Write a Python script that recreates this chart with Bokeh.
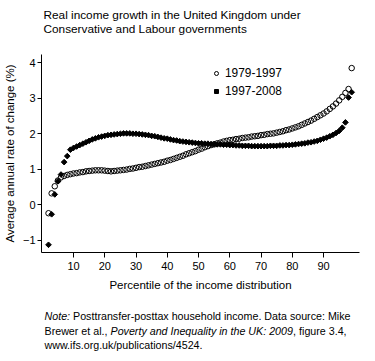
import numpy as np
from bokeh.plotting import figure
from bokeh.layouts import column
from bokeh.models import Legend, LegendItem, Range1d, FixedTicker
from bokeh.core.properties import value
from bokeh.embed import file_html
from bokeh.resources import INLINE

# ---------------- data ----------------
percentiles = list(range(2, 100))
growth_1979_1997 = [
    -0.24, 0.32, 0.52, 0.68, 0.77, 0.81, 0.84, 0.86, 0.88, 0.89,   # 2-11
    0.91, 0.92, 0.94, 0.95, 0.96, 0.97, 0.97, 0.97, 0.96, 0.95,    # 12-21
    0.94, 0.95, 0.96, 0.97, 0.98, 0.99, 1.01, 1.02, 1.04, 1.06,    # 22-31
    1.07, 1.09, 1.11, 1.13, 1.15, 1.17, 1.19, 1.21, 1.24, 1.26,    # 32-41
    1.29, 1.32, 1.35, 1.38, 1.42, 1.45, 1.48, 1.51, 1.55, 1.58,    # 42-51
    1.62, 1.65, 1.68, 1.70, 1.73, 1.75, 1.78, 1.80, 1.82, 1.83,    # 52-61
    1.85, 1.86, 1.88, 1.89, 1.90, 1.92, 1.93, 1.94, 1.96, 1.97,    # 62-71
    1.99, 2.00, 2.01, 2.03, 2.05, 2.07, 2.10, 2.12, 2.15, 2.18,    # 72-81
    2.21, 2.25, 2.29, 2.33, 2.37, 2.42, 2.47, 2.52, 2.57, 2.63,    # 82-91
    2.70, 2.77, 2.85, 2.94, 3.04, 3.15, 3.26, 3.85,                # 92-99
]
growth_1997_2008 = [
    -1.13, -0.27, 0.29, 0.66, 0.85, 1.20, 1.37, 1.55, 1.60, 1.64,  # 2-11
    1.68, 1.72, 1.76, 1.80, 1.84, 1.87, 1.90, 1.92, 1.94, 1.96,    # 12-21
    1.97, 1.98, 1.99, 2.00, 2.01, 2.01, 2.01, 2.00, 2.00, 1.99,    # 22-31
    1.98, 1.97, 1.96, 1.94, 1.93, 1.91, 1.89, 1.87, 1.86, 1.84,    # 32-41
    1.82, 1.81, 1.79, 1.78, 1.77, 1.76, 1.75, 1.74, 1.73, 1.73,    # 42-51
    1.72, 1.72, 1.71, 1.71, 1.70, 1.70, 1.69, 1.69, 1.68, 1.68,    # 52-61
    1.67, 1.67, 1.66, 1.66, 1.66, 1.65, 1.65, 1.65, 1.65, 1.65,    # 62-71
    1.65, 1.66, 1.66, 1.66, 1.67, 1.67, 1.68, 1.68, 1.69, 1.70,    # 72-81
    1.71, 1.72, 1.73, 1.75, 1.76, 1.78, 1.80, 1.83, 1.86, 1.89,    # 82-91
    1.93, 1.97, 2.02, 2.08, 2.17, 2.32, 3.02, 3.17,                # 92-99
]
series_labels = ["1979-1997", "1997-2008"]
x_ticks = [10, 20, 30, 40, 50, 60, 70, 80, 90]
y_ticks = [-1, 0, 1, 2, 3, 4]

title_lines = ["Real income growth in the United Kingdom under",
               "Conservative and Labour governments"]
x_label = "Percentile of the income distribution"
y_label = "Average annual rate of change (%)"

note_lines = [
    [("Note:", "italic"), (" Posttransfer-posttax household income. Data source: Mike", "normal")],
    [("Brewer et al., ", "normal"), ("Poverty and Inequality in the UK: 2009", "italic"),
     (", figure 3.4,", "normal")],
    [("www.ifs.org.uk/publications/4524.", "normal")],
]

FONT = "Liberation Sans"
BORDER_L, BORDER_R, FRAME_W = 39, 2, 318

# Arial / Liberation Sans advance widths (per 1000 em)
_W = {" ": 278, ",": 278, "-": 333, ".": 278, "/": 278, ":": 278,
      "A": 667, "B": 667, "C": 722, "D": 722, "E": 667, "F": 611, "G": 778,
      "H": 722, "I": 278, "J": 500, "K": 667, "L": 556, "M": 833, "N": 722,
      "O": 778, "P": 667, "Q": 778, "R": 722, "S": 667, "T": 611, "U": 722,
      "V": 667, "W": 944, "X": 667, "Y": 667, "Z": 611,
      "a": 556, "b": 556, "c": 500, "d": 556, "e": 556, "f": 278, "g": 556,
      "h": 556, "i": 222, "j": 222, "k": 500, "l": 222, "m": 833, "n": 556,
      "o": 556, "p": 556, "q": 556, "r": 333, "s": 500, "t": 278, "u": 556,
      "v": 500, "w": 722, "x": 500, "y": 500, "z": 500}


def text_width(s, size):
    return sum(_W.get(c, 556) for c in s) / 1000.0 * size


def text_panel(height):
    # same side borders as the chart so the column aligns; x in canvas pixels
    f = figure(frame_width=FRAME_W, frame_height=height,
               x_range=Range1d(BORDER_L, BORDER_L + FRAME_W), y_range=Range1d(height, 0),
               output_backend="svg", toolbar_location=None,
               x_axis_location=None, y_axis_location=None, title_location=None,
               min_border_left=BORDER_L, min_border_right=BORDER_R,
               min_border_top=0, min_border_bottom=0)
    f.outline_line_color = None
    f.xgrid.grid_line_color = None
    f.ygrid.grid_line_color = None
    return f


def put_text(f, x, y, text, size, style="normal"):
    f.text(x=[x], y=[y], text=[text], text_font=value(FONT),
           text_font_size=f"{size}px", text_font_style=style,
           text_color="black", text_baseline="middle", text_align="left")


# ---------------- title panel ----------------
TITLE_H = 54
title_fig = text_panel(TITLE_H)
put_text(title_fig, 41, 14, title_lines[0], 11.8)
put_text(title_fig, 41, 28, title_lines[1], 11.8)

# ---------------- main chart ----------------
p = figure(frame_width=FRAME_W, frame_height=198,
           x_range=Range1d(-0.24, 101.5), y_range=Range1d(-1.347, 4.233),
           output_backend="svg", toolbar_location=None, title_location=None,
           min_border_left=BORDER_L, min_border_right=BORDER_R,
           min_border_top=0, min_border_bottom=48)
p.outline_line_color = None
p.xgrid.grid_line_color = None
p.ygrid.grid_line_color = None

for ax in (p.xaxis[0], p.yaxis[0]):
    ax.axis_line_color = "black"
    ax.axis_line_width = 1
    ax.major_tick_line_color = "black"
    ax.minor_tick_line_color = None
    ax.major_tick_in = 0
    ax.major_label_text_font = FONT
    ax.major_label_text_font_size = "11px"
    ax.major_label_text_color = "black"
    ax.axis_label_text_font = FONT
    ax.axis_label_text_font_size = "11.5px"
    ax.axis_label_text_font_style = "normal"
    ax.axis_label_text_color = "black"

p.xaxis.ticker = FixedTicker(ticks=x_ticks)
p.yaxis.ticker = FixedTicker(ticks=y_ticks)
p.xaxis.major_tick_out = 5
p.yaxis.major_tick_out = 4
p.xaxis.major_label_standoff = 4
p.yaxis.major_label_standoff = 2
p.xaxis.axis_label = x_label
p.yaxis.axis_label = y_label
p.xaxis.axis_label_standoff = 6
p.yaxis.axis_label_standoff = 4

r1 = p.scatter(percentiles, growth_1979_1997, marker="circle", size=5.5,
               fill_color=None, line_color="black", line_width=1)
r2 = p.scatter(percentiles, growth_1997_2008, marker="square", angle=np.pi / 4,
               size=4, fill_color="black", line_color="black", line_width=1)

legend = Legend(items=[LegendItem(label=series_labels[0], renderers=[r1]),
                       LegendItem(label=series_labels[1], renderers=[r2])],
                location=(170, 154), border_line_color=None,
                background_fill_alpha=0, padding=0, margin=0, spacing=4,
                glyph_width=10, glyph_height=14, label_height=14,
                label_standoff=4, label_text_font=FONT,
                label_text_font_size="11.9px", label_text_color="black")
p.add_layout(legend)

# ---------------- note panel ----------------
NOTE_H = 52
NS = 10.7
note_fig = text_panel(NOTE_H)
note_y = [15, 30, 44]
for parts, yy in zip(note_lines, note_y):
    xx = 42.0
    for txt, style in parts:
        stripped = txt.lstrip(" ")
        lead = text_width(txt[:len(txt) - len(stripped)], NS)
        put_text(note_fig, xx + lead, yy, stripped.rstrip(" "), NS, style)
        xx += text_width(txt, NS)

layout = column(title_fig, p, note_fig, spacing=0)
open("out.html", "w").write(file_html(layout, INLINE))
